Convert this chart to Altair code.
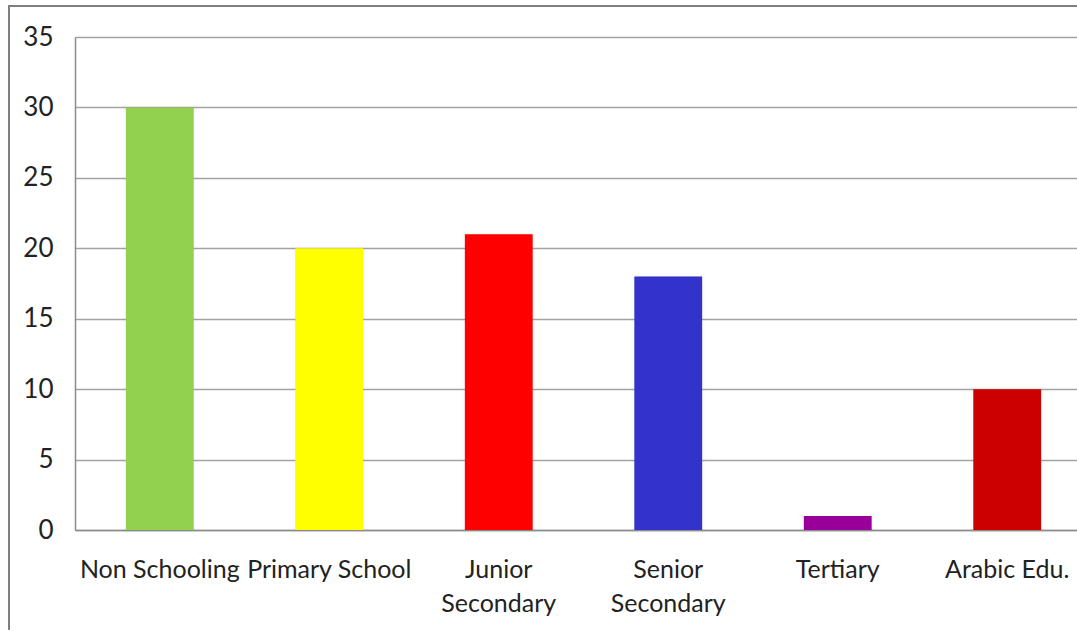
import altair as alt
import pandas as pd

categories = ["Non Schooling", "Primary School", "Junior Secondary",
              "Senior Secondary", "Tertiary", "Arabic Edu."]
values = [30, 20, 21, 18, 1, 10]
colors = ["#92D050", "#FFFF00", "#FF0000", "#3333CC", "#990099", "#CC0000"]

df = pd.DataFrame({"cat": categories, "val": values, "col": colors})

FONT = "Lato"
TXT = "#222222"

x_enc = alt.X(
    "cat:N", sort=categories, title=None,
    scale=alt.Scale(paddingInner=0.6, paddingOuter=0.256, align=0.5865),
    axis=alt.Axis(
        labelAngle=0, labelFont=FONT, labelFontSize=25, labelColor=TXT,
        labelPadding=27, tickSize=0, domainColor="#8c8c8c", domainWidth=1.5,
        labelLineHeight=34, labelBaseline="top", labelOverlap=False,
        labelExpr="indexof(['Junior Secondary','Senior Secondary'], datum.label) >= 0 ? split(datum.label, ' ') : datum.label",
    ),
)
y_enc = alt.Y(
    "val:Q", title=None,
    scale=alt.Scale(domain=[0, 35], nice=False),
    axis=alt.Axis(
        values=[0, 5, 10, 15, 20, 25, 30, 35], labelFont=FONT, labelFontSize=26,
        labelColor=TXT, labelPadding=22, tickSize=0,
        gridColor="#a3a3a3", gridWidth=1.5, domainColor="#8c8c8c", domainWidth=1.5,
    ),
)

border = alt.Chart(alt.Data(values=[{}])).mark_rect(
    fill=None, stroke="#7f7f7f", strokeWidth=2
).encode(
    x=alt.value(-66), x2=alt.value(1200), y=alt.value(-31), y2=alt.value(800)
)

shadow = alt.Chart(df).mark_bar(
    color="#000000", opacity=0.12, stroke="#000000", strokeOpacity=0.08, strokeWidth=6
).encode(x=x_enc, y=y_enc)

bars = alt.Chart(df).mark_bar().encode(
    x=x_enc, y=y_enc, color=alt.Color("col:N", scale=None)
)

chart = alt.layer(border, shadow, bars).properties(
    width=1002, height=493,
    autosize=alt.AutoSizeParams(type="none"),
    padding={"left": 75, "top": 37, "right": 0, "bottom": 100},
).configure_view(stroke=None).configure(background="white")

chart.save("out.html", embed_options={"renderer": "svg", "actions": False})
